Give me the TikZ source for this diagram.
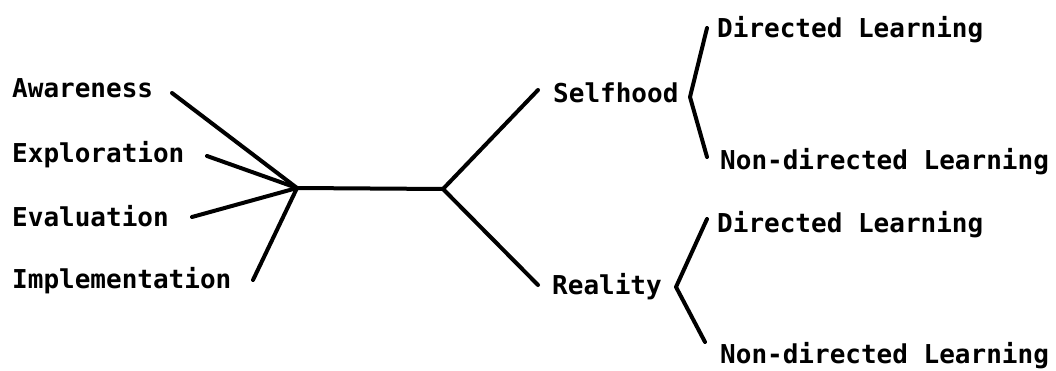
\documentclass[tikz,border=0pt]{standalone}
\usepackage{fontspec}
\setmonofont{DejaVu Sans Mono}
\begin{document}
\begin{tikzpicture}[x=1pt,y=-1pt,
  lbl/.style={anchor=west,inner sep=0pt,font=\fontsize{26}{26}\selectfont\ttfamily\bfseries,text height=19pt,text depth=0pt},
  conn/.style={line width=4pt,line cap=round,line join=round}]
\useasboundingbox (0,0) rectangle (1056,371);
% labels
\node[lbl] (aw) at (12,88) {Awareness};
\node[lbl] (ex) at (12,153) {Exploration};
\node[lbl] (ev) at (12,217) {Evaluation};
\node[lbl] (im) at (12,279) {Implementation};
\node[lbl] (sf) at (553,93) {Selfhood};
\node[lbl] (re) at (552,285) {Reality};
\node[lbl] (d1) at (717,28) {Directed Learning};
\node[lbl] (n1) at (720,160) {Non-directed Learning};
\node[lbl] (d2) at (717,223) {Directed Learning};
\node[lbl] (n2) at (720,354) {Non-directed Learning};
% coordinates
\coordinate (hub) at (297,188);
\coordinate (fork) at (443,189);
\coordinate (awE) at (172,93);
\coordinate (exE) at (207,156);
\coordinate (evE) at (192,217);
\coordinate (imE) at (253,280);
\coordinate (sfW) at (538,90);
\coordinate (reW) at (538,285);
\coordinate (b1t) at (707,28);
\coordinate (b1v) at (690,97);
\coordinate (b1b) at (707,157);
\coordinate (b2t) at (707,219);
\coordinate (b2v) at (676,287);
\coordinate (b2b) at (705,342);
% connectors
\draw[conn] (awE) -- (hub);
\draw[conn] (exE) -- (hub);
\draw[conn] (evE) -- (hub);
\draw[conn] (imE) -- (hub);
\draw[conn] (hub) -- (fork);
\draw[conn] (fork) -- (sfW);
\draw[conn] (fork) -- (reW);
\draw[conn] (b1t) -- (b1v) -- (b1b);
\draw[conn] (b2t) -- (b2v) -- (b2b);
\end{tikzpicture}
\end{document}
